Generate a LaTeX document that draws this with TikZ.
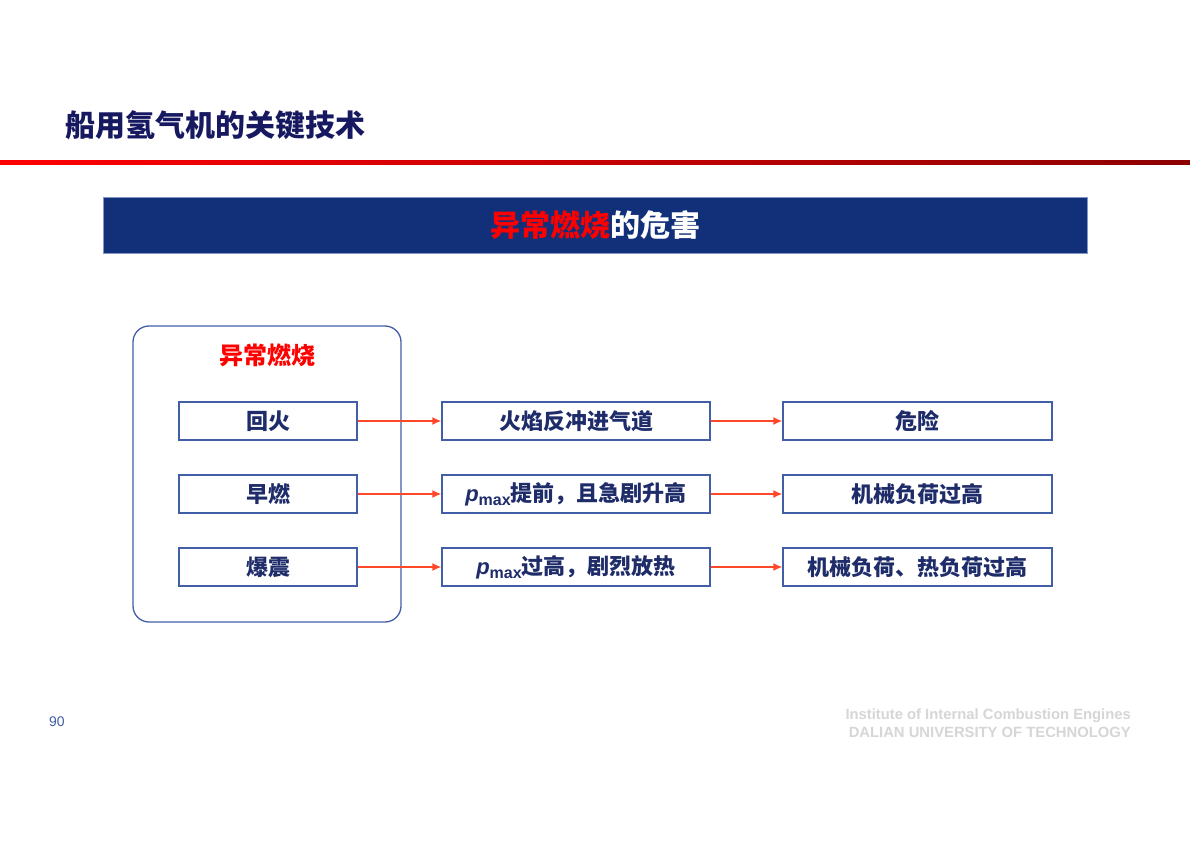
\documentclass[tikz,border=0pt]{standalone}
\usepackage{fontspec}
\setmainfont{Noto Sans CJK SC}
\newfontfamily\latinf{Liberation Sans}
\usetikzlibrary{arrows.meta}

\definecolor{navy}{RGB}{22,24,96}
\definecolor{barblue}{RGB}{18,48,122}
\definecolor{baredge}{RGB}{130,150,200}
\definecolor{boxblue}{RGB}{66,94,166}
\definecolor{textblue}{RGB}{30,44,106}
\definecolor{flowred}{RGB}{255,72,40}
\definecolor{darkred}{RGB}{140,0,0}
\definecolor{footgray}{RGB}{214,214,214}

\tikzset{
  itembox/.style={draw=boxblue, line width=1.3pt, minimum height=38pt, inner sep=0pt,
    text=textblue, font=\fontsize{22}{26}\selectfont\bfseries},
  flow/.style={-{Latex[length=9pt,width=8pt]}, draw=flowred, line width=1.4pt},
}
\newcommand{\pmax}{{\latinf\bfseries\itshape p}{\latinf\fontsize{16}{16}\selectfont\raisebox{-0.28em}{max}}}

\begin{document}
\begin{tikzpicture}[x=1pt, y=-1pt]
        \useasboundingbox (0,0) rectangle (1190,842);
        \fill[white] (0,0) rectangle (1190,842);
        % header
        \node[anchor=west, inner sep=0pt, text=navy, font=\fontsize{30}{32}\selectfont\bfseries] (title) at (65,125) {船用氢气机的关键技术};
        \shade[left color=red, right color=darkred] (0,160.5) rectangle (1190,164.5);
        \node[fill=barblue, draw=baredge, line width=0.8pt, minimum width=984pt, minimum height=56pt,
            text=white, font=\fontsize{30}{32}\selectfont\bfseries] (banner) at (595,225) {{\color{red}异常燃烧}的危害};
        % group
        \node[draw=boxblue, line width=1.3pt, rounded corners=16pt, minimum width=268pt, minimum height=296pt] (group) at (267,474) {};
        \node[text=red, font=\fontsize{24}{28}\selectfont\bfseries] (grouplabel) at (267,355) {异常燃烧};
        % rows
        \node[itembox, minimum width=178pt] (cause1) at (268,421) {回火};
        \node[itembox, minimum width=178pt] (cause2) at (268,494) {早燃};
        \node[itembox, minimum width=178pt] (cause3) at (268,567) {爆震};
        \node[itembox, minimum width=268pt] (mid1) at (576,421) {火焰反冲进气道};
        \node[itembox, minimum width=268pt] (mid2) at (576,494) {\pmax 提前，且急剧升高};
        \node[itembox, minimum width=268pt] (mid3) at (576,567) {\pmax 过高，剧烈放热};
        \node[itembox, minimum width=269pt] (risk1) at (917.5,421) {危险};
        \node[itembox, minimum width=269pt] (risk2) at (917.5,494) {机械负荷过高};
        \node[itembox, minimum width=269pt] (risk3) at (917.5,567) {机械负荷、热负荷过高};
        \foreach \i in {1,2,3} {
            \draw[flow] (cause\i) -- (mid\i);
            \draw[flow] (mid\i) -- (risk\i);
        }
        % footer
        \node[text=boxblue, font=\latinf\fontsize{14}{14}\selectfont] (page) at (57,722) {90};
        \node[anchor=north east, align=right, inner sep=0pt, text=footgray,
            font=\latinf\bfseries\fontsize{14.8}{18}\selectfont] (institute) at (1131,709)
            {Institute of Internal Combustion Engines\\DALIAN UNIVERSITY OF TECHNOLOGY};
    \end{tikzpicture}
\end{document}
